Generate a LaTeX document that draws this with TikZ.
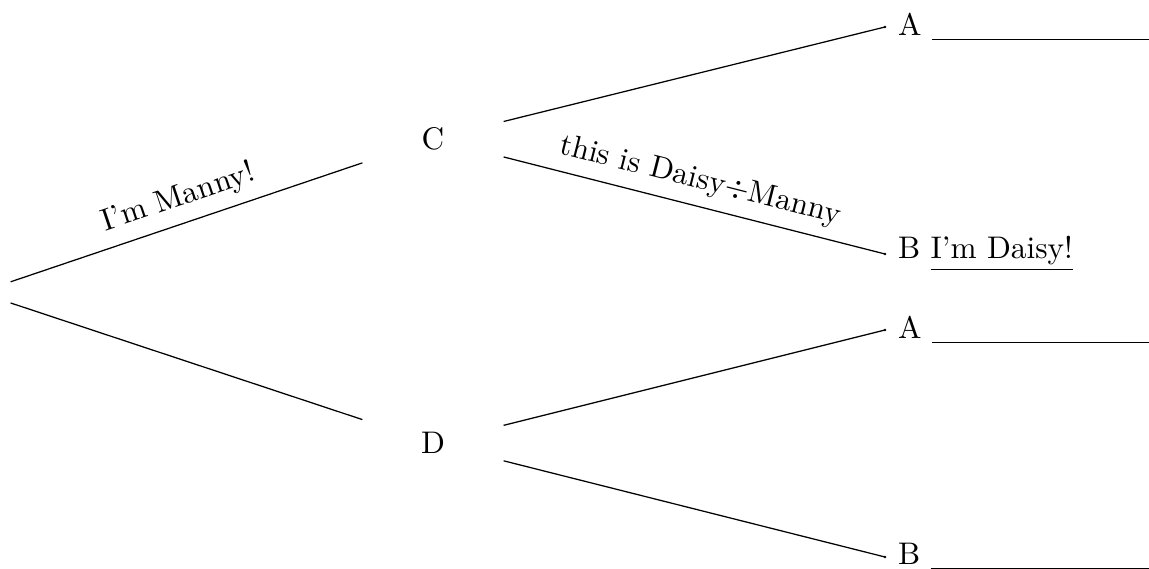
\documentclass[tikz,border=0pt]{standalone}
\usetikzlibrary{positioning}
\tikzset{
  px/.style={x=0.32pt,y=-0.32pt},
  inner/.style={draw=none,rectangle,minimum width=140*0.32pt,minimum height=60*0.32pt,inner sep=0pt},
  rootbox/.style={draw=none,rectangle,minimum width=62*0.32pt,minimum height=40*0.32pt,inner sep=0pt},
  leaf/.style={anchor=west,inner xsep=4pt,inner ysep=0pt},
  branch/.style={line width=0.4pt},
  lbl/.style={midway,sloped,above}
}
\newcommand{\blank}{\underline{\hspace{2.5cm}}}
\begin{document}
\begin{tikzpicture}[px]
\useasboundingbox (0,0) rectangle (1149,569);
\node[rootbox] (R) at (-21,292.5) {};
\node[inner] (C) at (433,139) {C};
\node[inner] (D) at (433,443) {D};
\node[leaf] (A1) at (885,27) {A \blank};
\node[leaf] (B1) at (885,254) {B \underline{I'm Daisy!}};
\node[leaf] (A2) at (885,330) {A \blank};
\node[leaf] (B2) at (885,557) {B \blank};
\draw[branch] (R) -- (C) node[lbl] {I'm Manny!};
\draw[branch] (R) -- (D);
\draw[branch] (C) -- (A1.west);
\draw[branch] (C) -- (B1.west) node[lbl] {this is Daisy$\mathord{\div}$Manny};
\draw[branch] (D) -- (A2.west);
\draw[branch] (D) -- (B2.west);
\foreach \n in {A1,B1,A2,B2} \fill (\n.west) circle (0.45pt);
\end{tikzpicture}
\end{document}
